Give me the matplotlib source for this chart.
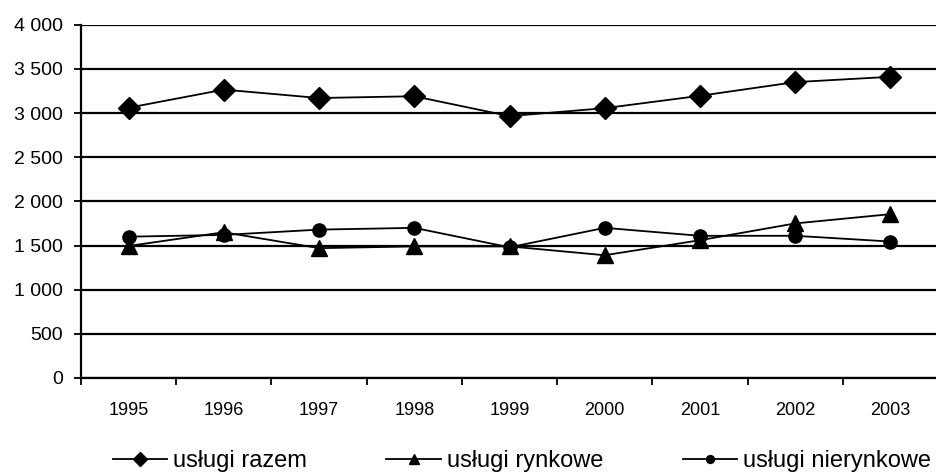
import matplotlib
matplotlib.use("Agg")
import matplotlib.pyplot as plt
from matplotlib.ticker import FuncFormatter, FixedLocator

plt.rcParams['font.family'] = ['Liberation Sans', 'DejaVu Sans']

years = ['1995', '1996', '1997', '1998', '1999', '2000', '2001', '2002', '2003']
uslugi_razem = [3060, 3265, 3170, 3190, 2965, 3055, 3195, 3350, 3410]
uslugi_rynkowe = [1495, 1650, 1470, 1490, 1490, 1390, 1560, 1750, 1855]
uslugi_nierynkowe = [1600, 1620, 1680, 1700, 1480, 1700, 1610, 1610, 1545]
series_labels = ['usługi razem', 'usługi rynkowe', 'usługi nierynkowe']

fig = plt.figure(figsize=(9.36, 4.75), dpi=100)
ax = fig.add_axes([81 / 936, 1 - 378 / 475, (938 - 81) / 936, (378 - 24.7) / 475])

x = list(range(len(years)))
ax.plot(x, uslugi_razem, color='black', lw=1.3, marker='D', markersize=11.5,
        markerfacecolor='black', markeredgecolor='black', label=series_labels[0], zorder=3)
ax.plot(x, uslugi_rynkowe, color='black', lw=1.3, marker='^', markersize=11,
        markerfacecolor='black', markeredgecolor='black', label=series_labels[1], zorder=3)
ax.plot(x, uslugi_nierynkowe, color='black', lw=1.3, marker='o', markersize=9.5,
        markerfacecolor='black', markeredgecolor='black', label=series_labels[2], zorder=3)

ax.set_xlim(-0.5, len(years) - 0.5)
ax.set_ylim(0, 4000)
ax.set_yticks(range(0, 4001, 500))
ax.yaxis.set_major_formatter(FuncFormatter(lambda v, p: f"{int(v):,}".replace(',', ' ')))
ax.grid(axis='y', color='black', lw=1.6)
ax.set_axisbelow(True)

ax.set_xticks(x)
ax.set_xticklabels(years, fontsize=13)
ax.xaxis.set_minor_locator(FixedLocator([i - 0.5 for i in range(len(years) + 1)]))
ax.tick_params(axis='x', which='major', length=0, pad=17)
ax.tick_params(axis='x', which='minor', length=5, width=1.3, direction='out', color='black')
ax.tick_params(axis='y', length=5, width=1.3, direction='out', labelsize=14, pad=8)

for s in ['top', 'right']:
    ax.spines[s].set_visible(False)
ax.spines['left'].set_linewidth(1.6)
ax.spines['bottom'].set_linewidth(1.6)

fig.legend(loc='center', bbox_to_anchor=(522 / 936, 1 - 461 / 475), ncol=3,
           frameon=False, fontsize=17, handlelength=2.3, handletextpad=0.27,
           columnspacing=3.35, markerscale=0.6, borderpad=0)

fig.savefig('out.png', dpi=100)
